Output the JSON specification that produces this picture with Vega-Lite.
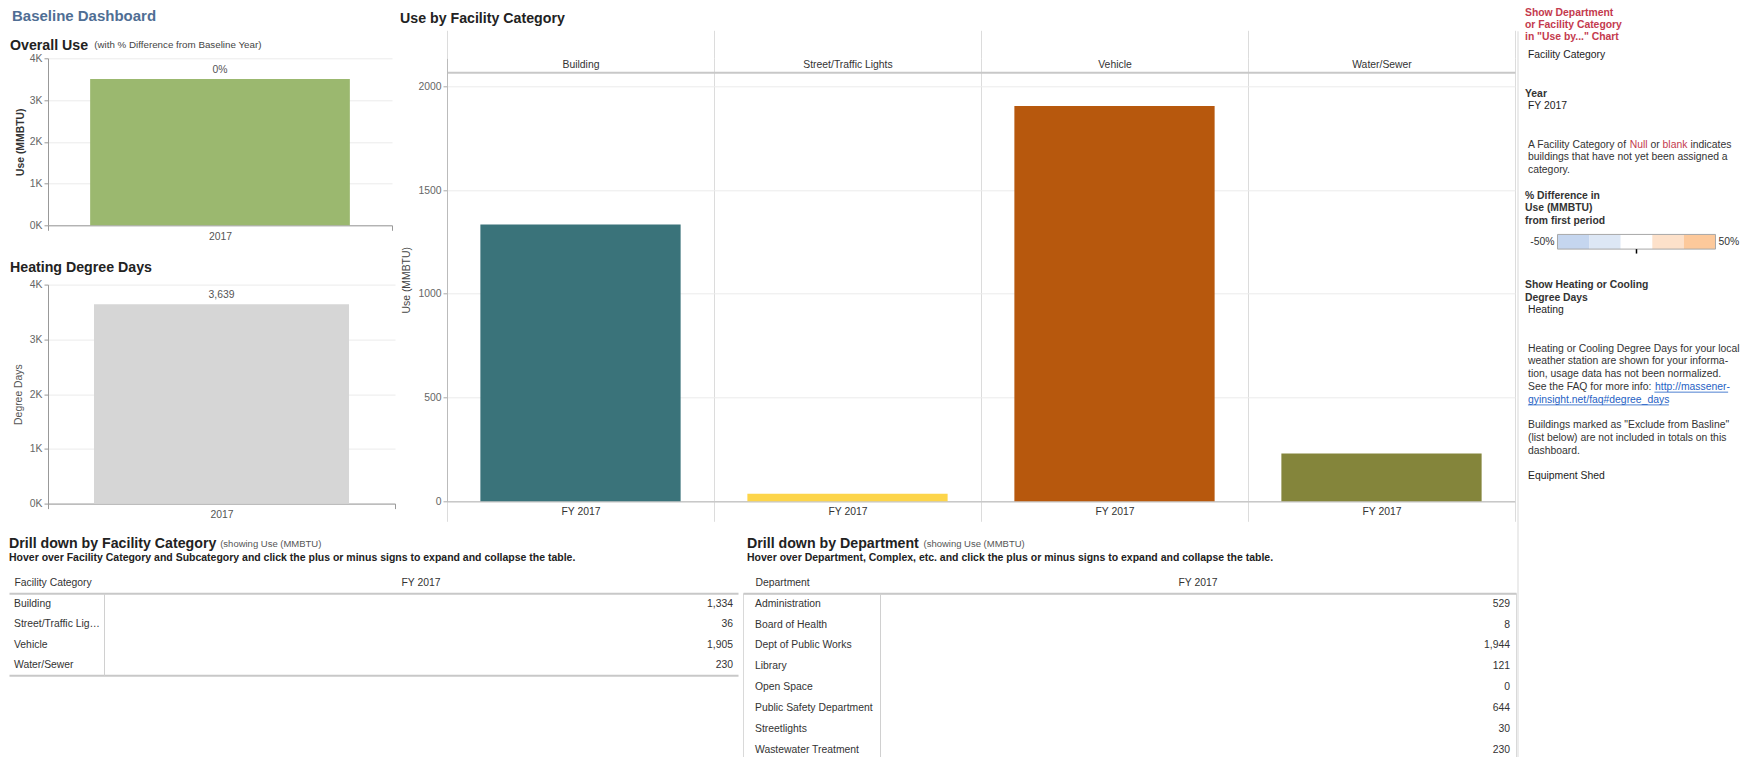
{
  "$schema": "https://vega.github.io/schema/vega-lite/v6.json",
  "background": "white",
  "padding": {"left": 9, "top": 7.3, "right": 0, "bottom": 0},
  "config": {
    "font": "Liberation Sans",
    "view": {"stroke": null},
    "axis": {
      "labelFont": "Liberation Sans", "titleFont": "Liberation Sans",
      "labelFontSize": 10.4, "titleFontSize": 10.4,
      "labelColor": "#666666", "titleColor": "#444444", "titleFontWeight": "normal",
      "domainColor": "#aaaaaa", "tickColor": "#aaaaaa", "gridColor": "#ebebeb"
    },
    "title": {
      "font": "Liberation Sans", "fontSize": 14.2, "fontWeight": "bold", "color": "#222222",
      "anchor": "start", "frame": "group",
      "subtitleFont": "Liberation Sans", "subtitleFontSize": 10.5, "subtitleFontWeight": "bold", "subtitleColor": "#222222", "subtitlePadding": 2
    },
    "text": {"font": "Liberation Sans", "fontSize": 10.4, "color": "#333333"}
  },
  "datasets": {
    "overall": [{"year": "2017", "use": 3505, "pct_label": "0%"}],
    "hdd": [{"year": "2017", "degree_days": 3639}],
    "facility": [
      {"year": "FY 2017", "category": "Building", "use": 1334},
      {"year": "FY 2017", "category": "Street/Traffic Lights", "use": 36},
      {"year": "FY 2017", "category": "Vehicle", "use": 1905},
      {"year": "FY 2017", "category": "Water/Sewer", "use": 230}
    ],
    "department": [
      {"year": "FY 2017", "department": "Administration", "use": 529},
      {"year": "FY 2017", "department": "Board of Health", "use": 8},
      {"year": "FY 2017", "department": "Dept of Public Works", "use": 1944},
      {"year": "FY 2017", "department": "Library", "use": 121},
      {"year": "FY 2017", "department": "Open Space", "use": 0},
      {"year": "FY 2017", "department": "Public Safety Department", "use": 644},
      {"year": "FY 2017", "department": "Streetlights", "use": 30},
      {"year": "FY 2017", "department": "Wastewater Treatment", "use": 230}
    ],
    "panel": [
      {"line": 0, "text": "Facility Category", "kind": "value"},
      {"line": 3, "text": "Year", "kind": "heading"},
      {"line": 4, "text": "FY 2017", "kind": "value"},
      {"line": 7, "text": "A Facility Category of", "kind": "note"},
      {"line": 7, "text": "Null", "kind": "flag"},
      {"line": 7, "text": "or", "kind": "inline"},
      {"line": 7, "text": "blank", "kind": "flag"},
      {"line": 7, "text": "indicates", "kind": "inline"},
      {"line": 8, "text": "buildings that have not yet been assigned a", "kind": "note"},
      {"line": 9, "text": "category.", "kind": "note"},
      {"line": 11, "text": "% Difference in", "kind": "heading"},
      {"line": 12, "text": "Use (MMBTU)", "kind": "heading"},
      {"line": 13, "text": "from first period", "kind": "heading"},
      {"line": 14, "text": "-50%", "kind": "legend-min"},
      {"line": 14, "text": "50%", "kind": "legend-max"},
      {"line": 14, "text": "legend", "kind": "guide"},
      {"line": 18, "text": "Show Heating or Cooling", "kind": "heading"},
      {"line": 19, "text": "Degree Days", "kind": "heading"},
      {"line": 20, "text": "Heating", "kind": "value"},
      {"line": 23, "text": "Heating or Cooling Degree Days for your local", "kind": "note"},
      {"line": 24, "text": "weather station are shown for your informa-", "kind": "note"},
      {"line": 25, "text": "tion, usage data has not been normalized.", "kind": "note"},
      {"line": 26, "text": "See the FAQ for more info:", "kind": "note"},
      {"line": 26, "text": "http://massener-", "kind": "link"},
      {"line": 27, "text": "gyinsight.net/faq#degree_days", "kind": "link"},
      {"line": 29, "text": "Buildings marked as \"Exclude from Basline\"", "kind": "note"},
      {"line": 30, "text": "(list below) are not included in totals on this", "kind": "note"},
      {"line": 31, "text": "dashboard.", "kind": "note"},
      {"line": 33, "text": "Equipment Shed", "kind": "value"}
    ]
  },
  "spacing": 0,
  "hconcat": [
    {
      "spacing": 13,
      "vconcat": [
        {
          "spacing": 0,
          "hconcat": [
            {"width": 1, "height": 1, "data": {"values": []}, "mark": "point"},
            {
              "spacing": 4,
              "hconcat": [
                {
                  "spacing": 18.3,
                  "title": {"text": "Baseline Dashboard", "fontSize": 15, "color": "#4f6e94", "dx": -36, "offset": 14.5, "anchor": "start"},
                  "vconcat": [
                    {
                      "width": 344, "height": 167,
                      "data": {"name": "overall"},
                      "title": {"text": "Overall Use", "dx": -38, "offset": -13.8},
                      "encoding": {
                        "y": {"field": "use", "type": "quantitative", "scale": {"domain": [0, 4000], "nice": false},
                          "axis": {"values": [0, 1000, 2000, 3000, 4000], "labelExpr": "datum.value / 1000 + 'K'", "title": "Use (MMBTU)", "titleFontWeight": "bold", "titleColor": "#333333", "titlePadding": 4, "grid": true, "tickSize": 4, "labelPadding": 2, "domainColor": "#999999", "tickColor": "#999999"}}
                      },
                      "layer": [
                        {
                          "mark": {"type": "bar", "color": "#9bb86f", "width": {"band": 0.755}},
                          "encoding": {
                            "x": {"field": "year", "type": "nominal", "scale": {"paddingInner": 0, "paddingOuter": 0},
                              "axis": {"orient": "bottom", "title": null, "labelAngle": 0, "tickBand": "extent", "tickSize": 5, "labelPadding": 1, "domainColor": "#999999", "tickColor": "#999999", "labelColor": "#555555"}}
                          }
                        },
                        {
                          "mark": {"type": "text", "baseline": "bottom", "dy": -4, "color": "#555555"},
                          "encoding": {
                            "text": {"field": "pct_label"},
                            "x": {"field": "year", "type": "nominal",
                              "axis": {"orient": "top", "labels": false, "ticks": false, "domain": false, "grid": false, "title": "(with % Difference from Baseline Year)", "titleX": 45.7, "titleY": -14, "titleAlign": "left", "titleBaseline": "middle", "titleFontSize": 9.8, "titleColor": "#444444"}}
                          }
                        }
                      ],
                      "resolve": {"axis": {"x": "independent"}}
                    },
                    {
                      "width": 347, "height": 219,
                      "data": {"name": "hdd"},
                      "title": {"text": "Heating Degree Days", "dx": -38, "offset": 4.6},
                      "encoding": {
                        "x": {"field": "year", "type": "nominal", "scale": {"paddingInner": 0, "paddingOuter": 0},
                          "axis": {"orient": "bottom", "title": null, "labelAngle": 0, "tickBand": "extent", "tickSize": 5, "labelPadding": 1, "domainColor": "#999999", "tickColor": "#999999", "labelColor": "#555555"}},
                        "y": {"field": "degree_days", "type": "quantitative", "scale": {"domain": [0, 4000], "nice": false},
                          "axis": {"values": [0, 1000, 2000, 3000, 4000], "labelExpr": "datum.value / 1000 + 'K'", "title": "Degree Days", "titleColor": "#555555", "titlePadding": 6, "grid": true, "tickSize": 4, "labelPadding": 2, "domainColor": "#999999", "tickColor": "#999999"}}
                      },
                      "layer": [
                        {"mark": {"type": "bar", "color": "#d6d6d6", "width": {"band": 0.735}}},
                        {"mark": {"type": "text", "baseline": "bottom", "dy": -4, "color": "#555555"},
                          "encoding": {"text": {"field": "degree_days", "format": ","}}}
                      ]
                    }
                  ]
                },
                {
                  "width": 1068, "height": 443,
                  "data": {"name": "facility"},
                  "title": {"text": "Use by Facility Category", "dx": -47, "offset": 4},
                  "layer": [
                    {
                      "mark": {"type": "bar", "width": {"band": 0.75}},
                      "encoding": {
                        "x": {"field": "category", "type": "nominal", "sort": null, "scale": {"paddingInner": 0, "paddingOuter": 0},
                          "axis": {"orient": "bottom", "title": null, "labelExpr": "datum.label ? 'FY 2017' : ''", "labelAngle": 0, "tickBand": "extent", "tickSize": 20, "tickColor": "#dcdcdc", "labelPadding": -14.4, "grid": true, "gridColor": "#dcdcdc", "domainColor": "#c8c8c8", "domainWidth": 1.5, "labelColor": "#333333"}},
                        "y": {"field": "use", "type": "quantitative", "scale": {"domain": [0, 2134.9], "nice": false},
                          "axis": {"values": [0, 500, 1000, 1500, 2000], "format": "d", "title": "Use (MMBTU)", "titlePadding": 6, "grid": true, "tickSize": 4, "labelPadding": 2, "domainColor": "#bbbbbb"}},
                        "color": {"field": "category", "type": "nominal", "sort": null,
                          "scale": {"domain": ["Building", "Street/Traffic Lights", "Vehicle", "Water/Sewer"], "range": ["#3a737a", "#fdd54a", "#b7580d", "#84853b"]}, "legend": null}
                      }
                    },
                    {
                      "mark": {"type": "bar", "opacity": 0, "width": {"band": 0.75}},
                      "encoding": {
                        "x": {"field": "category", "type": "nominal", "sort": null,
                          "axis": {"orient": "top", "title": null, "labelAngle": 0, "tickBand": "extent", "tickSize": 28, "tickColor": "#dcdcdc", "labelPadding": -39.1, "grid": false, "domain": false, "labelColor": "#333333"}},
                        "y": {"field": "use", "type": "quantitative",
                          "axis": {"orient": "right", "values": [2067.5], "grid": true, "gridColor": "#c8c8c8", "gridWidth": 2, "labels": false, "ticks": false, "domain": false, "title": null, "minExtent": 0}}
                      }
                    }
                  ],
                  "resolve": {"axis": {"x": "independent", "y": "independent"}}
                }
              ]
            }
          ]
        },
        {
          "spacing": 4,
          "hconcat": [
            {
              "width": 729, "height": 82,
              "data": {"name": "facility"},
              "title": {"text": "Drill down by Facility Category", "subtitle": "Hover over Facility Category and Subcategory and click the plus or minus signs to expand and collapse the table.", "offset": -25},
              "encoding": {
                "y": {"field": "category", "type": "nominal", "sort": null,
                  "axis": {"orient": "left", "offset": -95, "labels": false, "ticks": false, "grid": false, "domainColor": "#d0d0d0", "title": "Facility Category", "titleAngle": 0, "titleX": -90, "titleY": -11, "titleAlign": "left", "titleBaseline": "middle", "titleColor": "#333333"}}
              },
              "layer": [
                {
                  "mark": {"type": "text", "align": "left", "dx": 5, "limit": 88},
                  "encoding": {
                    "text": {"field": "category"},
                    "x": {"field": "year", "type": "nominal", "bandPosition": 0, "scale": {"type": "band", "paddingInner": 0, "paddingOuter": 0},
                      "axis": {"orient": "bottom", "labels": false, "ticks": false, "grid": false, "title": null, "domainColor": "#c8c8c8", "domainWidth": 2}}
                  }
                },
                {
                  "mark": {"type": "text", "align": "right", "dx": -5},
                  "encoding": {
                    "text": {"field": "use", "format": ","},
                    "x": {"field": "year", "type": "nominal", "bandPosition": 1,
                      "axis": {"orient": "top", "labelAngle": 0, "labelOffset": 47.5, "labelPadding": 6, "ticks": false, "grid": false, "domainColor": "#c8c8c8", "domainWidth": 2, "labelColor": "#333333", "title": "(showing Use (MMBTU)", "titleX": 210.7, "titleY": -50, "titleAlign": "left", "titleBaseline": "middle", "titleFontSize": 9.5, "titleColor": "#555555"}}
                  }
                }
              ],
              "resolve": {"axis": {"x": "independent"}}
            },
            {
              "width": 773, "height": 167,
              "view": {"stroke": "#d9d9d9"},
              "data": {"name": "department"},
              "title": {"text": "Drill down by Department", "subtitle": "Hover over Department, Complex, etc. and click the plus or minus signs to expand and collapse the table.", "dx": 4, "offset": -25},
              "encoding": {
                "y": {"field": "department", "type": "nominal", "sort": null,
                  "axis": {"orient": "left", "offset": -137, "labels": false, "ticks": false, "grid": false, "domainColor": "#d0d0d0", "title": "Department", "titleAngle": 0, "titleX": -125, "titleY": -11, "titleAlign": "left", "titleBaseline": "middle", "titleColor": "#333333"}}
              },
              "layer": [
                {
                  "mark": {"type": "text", "align": "left", "dx": 12},
                  "encoding": {
                    "text": {"field": "department"},
                    "x": {"field": "year", "type": "nominal", "bandPosition": 0, "scale": {"type": "band", "paddingInner": 0, "paddingOuter": 0}, "axis": null}
                  }
                },
                {
                  "mark": {"type": "text", "align": "right", "dx": -6},
                  "encoding": {
                    "text": {"field": "use", "format": ","},
                    "x": {"field": "year", "type": "nominal", "bandPosition": 1,
                      "axis": {"orient": "top", "labelAngle": 0, "labelOffset": 68.5, "labelPadding": 6, "ticks": false, "grid": false, "domainColor": "#c8c8c8", "domainWidth": 2, "labelColor": "#333333", "title": "(showing Use (MMBTU)", "titleX": 180, "titleY": -50, "titleAlign": "left", "titleBaseline": "middle", "titleFontSize": 9.5, "titleColor": "#555555"}}
                  }
                }
              ],
              "resolve": {"axis": {"x": "independent"}}
            }
          ]
        }
      ]
    },
    {
      "width": 237, "height": 700,
      "data": {"name": "panel"},
      "title": {"text": ["Show Department", "or Facility Category", "in \"Use by...\" Chart"], "fontSize": 10.4, "lineHeight": 12, "color": "#c43a4e", "dx": 7, "offset": -11.7},
      "encoding": {
        "x": {"datum": -75, "type": "quantitative", "scale": {"domain": [-75, 75], "nice": false, "zero": false}, "axis": null},
        "y": {"field": "line", "type": "quantitative", "scale": {"domain": [0.2353, 55.137], "reverse": true, "nice": false, "zero": false}, "axis": null}
      },
      "layer": [
        {
          "transform": [{"filter": "datum.kind === 'guide'"}],
          "mark": {"type": "rule", "color": "#d9d9d9", "strokeWidth": 1},
          "encoding": {
            "y": {"datum": -1.882, "type": "quantitative", "axis": null}, "y2": {"datum": 55.137}
          }
        },
        {"transform": [{"filter": "datum.kind === 'heading'"}], "mark": {"type": "text", "align": "left", "dx": 7, "fontWeight": "bold", "color": "#333333"}, "encoding": {"text": {"field": "text"}}},
        {"transform": [{"filter": "datum.kind === 'value'"}], "mark": {"type": "text", "align": "left", "dx": 10, "color": "#222222"}, "encoding": {"text": {"field": "text"}}},
        {"transform": [{"filter": "datum.kind === 'note'"}], "mark": {"type": "text", "align": "left", "dx": 10, "color": "#333333"}, "encoding": {"text": {"field": "text"}}},
        {"transform": [{"filter": "datum.text === 'Null'"}], "mark": {"type": "text", "align": "left", "dx": 111.7, "color": "#c43a4e"}, "encoding": {"text": {"field": "text"}}},
        {"transform": [{"filter": "datum.text === 'or'"}], "mark": {"type": "text", "align": "left", "dx": 132.5, "color": "#333333"}, "encoding": {"text": {"field": "text"}}},
        {"transform": [{"filter": "datum.text === 'blank'"}], "mark": {"type": "text", "align": "left", "dx": 144.6, "color": "#c43a4e"}, "encoding": {"text": {"field": "text"}}},
        {"transform": [{"filter": "datum.text === 'indicates'"}], "mark": {"type": "text", "align": "left", "dx": 172.4, "color": "#333333"}, "encoding": {"text": {"field": "text"}}},
        {"transform": [{"filter": "datum.text === 'http://massener-'"}], "mark": {"type": "text", "align": "left", "dx": 137, "color": "#1f5fc4"}, "encoding": {"text": {"field": "text"}}},
        {"transform": [{"filter": "datum.text === 'gyinsight.net/faq#degree_days'"}], "mark": {"type": "text", "align": "left", "dx": 10, "color": "#1f5fc4"}, "encoding": {"text": {"field": "text"}}},
        {
          "transform": [{"filter": "datum.text === 'http://massener-'"}],
          "mark": {"type": "rule", "color": "#1f5fc4", "strokeWidth": 0.8},
          "encoding": {"x": {"datum": 11.34, "type": "quantitative", "axis": null}, "x2": {"datum": 58.0}, "y": {"datum": 26.42, "type": "quantitative", "axis": null}}
        },
        {
          "transform": [{"filter": "datum.text === 'gyinsight.net/faq#degree_days'"}],
          "mark": {"type": "rule", "color": "#1f5fc4", "strokeWidth": 0.8},
          "encoding": {"x": {"datum": -68.7, "type": "quantitative", "axis": null}, "x2": {"datum": 20.5}, "y": {"datum": 27.42, "type": "quantitative", "axis": null}}
        },
        {
          "transform": [{"filter": "datum.kind === 'guide'"}],
          "mark": {"type": "rect", "color": "#c5d6ef"},
          "encoding": {"x": {"datum": -50, "type": "quantitative", "axis": null}, "x2": {"datum": -30}, "y": {"datum": 14.05, "type": "quantitative", "axis": null}, "y2": {"datum": 15.2}}
        },
        {
          "transform": [{"filter": "datum.kind === 'guide'"}],
          "mark": {"type": "rect", "color": "#dde7f5"},
          "encoding": {"x": {"datum": -30, "type": "quantitative", "axis": null}, "x2": {"datum": -10}, "y": {"datum": 14.05, "type": "quantitative", "axis": null}, "y2": {"datum": 15.2}}
        },
        {
          "transform": [{"filter": "datum.kind === 'guide'"}],
          "mark": {"type": "rect", "color": "#ffffff"},
          "encoding": {"x": {"datum": -10, "type": "quantitative", "axis": null}, "x2": {"datum": 10}, "y": {"datum": 14.05, "type": "quantitative", "axis": null}, "y2": {"datum": 15.2}}
        },
        {
          "transform": [{"filter": "datum.kind === 'guide'"}],
          "mark": {"type": "rect", "color": "#fde1ca"},
          "encoding": {"x": {"datum": 10, "type": "quantitative", "axis": null}, "x2": {"datum": 30}, "y": {"datum": 14.05, "type": "quantitative", "axis": null}, "y2": {"datum": 15.2}}
        },
        {
          "transform": [{"filter": "datum.kind === 'guide'"}],
          "mark": {"type": "rect", "color": "#fdc99b"},
          "encoding": {"x": {"datum": 30, "type": "quantitative", "axis": null}, "x2": {"datum": 50}, "y": {"datum": 14.05, "type": "quantitative", "axis": null}, "y2": {"datum": 15.2}}
        },
        {
          "transform": [{"filter": "datum.kind === 'guide'"}],
          "mark": {"type": "rect", "filled": false, "stroke": "#a8a8a8", "strokeWidth": 1},
          "encoding": {"x": {"datum": -50, "type": "quantitative", "axis": null}, "x2": {"datum": 50}, "y": {"datum": 14.05, "type": "quantitative", "axis": null}, "y2": {"datum": 15.2}}
        },
        {
          "transform": [{"filter": "datum.kind === 'guide'"}],
          "mark": {"type": "rule", "color": "#000000", "strokeWidth": 1.5},
          "encoding": {"x": {"datum": 0, "type": "quantitative", "axis": null}, "y": {"datum": 15.2, "type": "quantitative", "axis": null}, "y2": {"datum": 15.55}}
        },
        {
          "transform": [{"filter": "datum.kind === 'legend-min'"}],
          "mark": {"type": "text", "align": "right", "dx": -3, "color": "#333333"},
          "encoding": {"x": {"datum": -50, "type": "quantitative", "axis": null}, "y": {"datum": 14.62, "type": "quantitative", "axis": null}, "text": {"field": "text"}}
        },
        {
          "transform": [{"filter": "datum.kind === 'legend-max'"}],
          "mark": {"type": "text", "align": "left", "dx": 3, "color": "#333333"},
          "encoding": {"x": {"datum": 50, "type": "quantitative", "axis": null}, "y": {"datum": 14.62, "type": "quantitative", "axis": null}, "text": {"field": "text"}}
        }
      ]
    }
  ]
}
